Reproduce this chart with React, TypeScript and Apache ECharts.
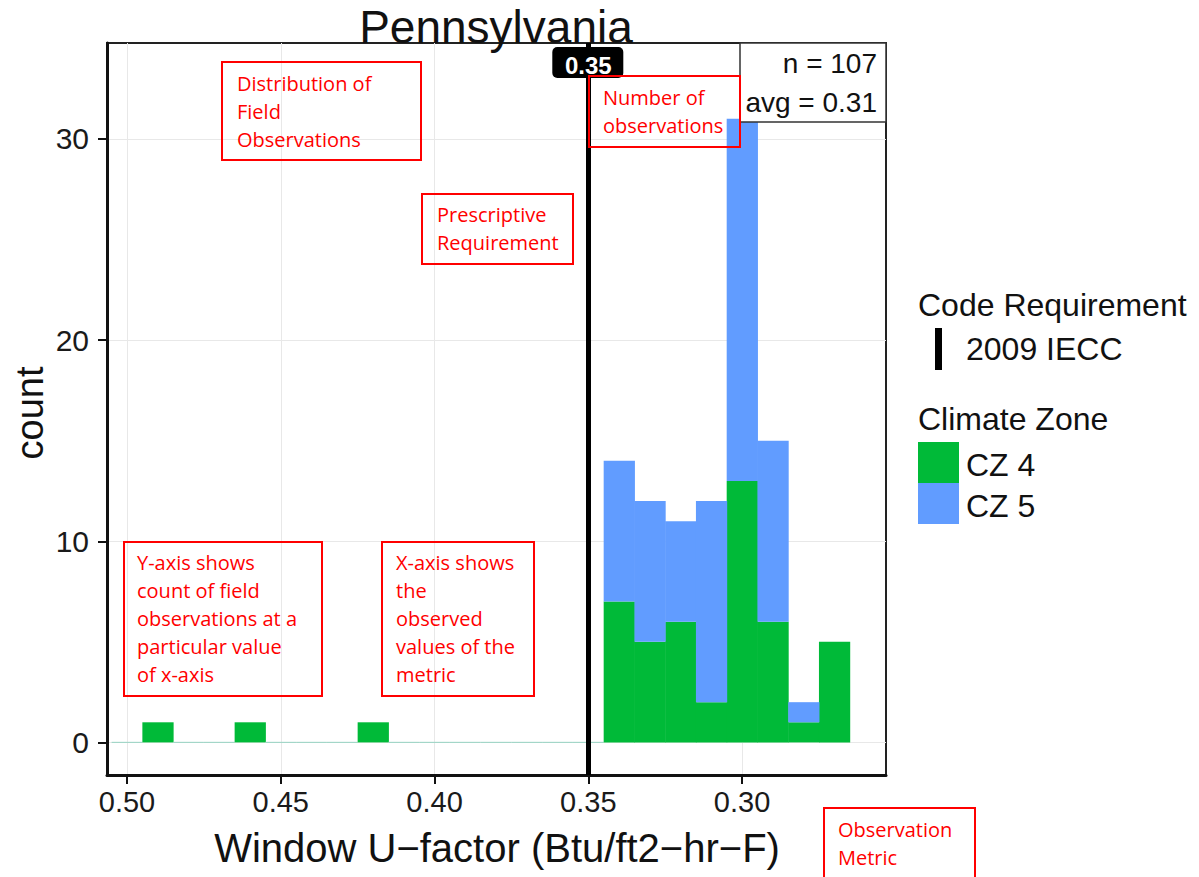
import React, { useEffect, useRef } from "react";
import * as echarts from "echarts";

// Histogram bins (window U-factor), counts per climate zone
const binCenters = [0.5, 0.49, 0.48, 0.47, 0.46, 0.45, 0.44, 0.43, 0.42, 0.41, 0.4, 0.39, 0.38, 0.37, 0.36, 0.35, 0.34, 0.33, 0.32, 0.31, 0.3, 0.29, 0.28, 0.27];
const cz4Counts = [0, 1, 0, 0, 1, 0, 0, 0, 1, 0, 0, 0, 0, 0, 0, 0, 7, 5, 6, 2, 13, 6, 1, 5];
const cz5Counts = [0, 0, 0, 0, 0, 0, 0, 0, 0, 0, 0, 0, 0, 0, 0, 0, 7, 7, 5, 10, 18, 9, 1, 0];
const xTicks = [0.5, 0.45, 0.4, 0.35, 0.3];
const yTicks = [0, 10, 20, 30];
const requirement = 0.35;
const requirementLabel = "0.35";
const nObs = 107;
const avgValue = "0.31";
const binWidth = 0.01;

const GREEN = "#00BA38";
const BLUE = "#619CFF";
const ZERO = "#a3d6c8";
const RED = "#ff0000";
const FONT = "'Liberation Sans', Arial, sans-serif";
const NOTE_FONT = "'Open Sans', 'Noto Sans', sans-serif";

export default function App() {
  const ref = useRef<HTMLDivElement>(null);
  useEffect(() => {
    const chart = echarts.init(ref.current!, null, { renderer: "svg" });
    const totals = binCenters.map((_, i) => cz4Counts[i] + cz5Counts[i]);
    const cz4Data = binCenters.map((c, i) => [c, 0, cz4Counts[i], totals[i]]);
    const cz5Data = binCenters.map((c, i) => [c, cz4Counts[i], totals[i], totals[i]]);

    const makeRender = (color: string, drawZero: boolean) => (params: any, api: any) => {
      const c = api.value(0);
      const lo = api.value(1);
      const hi = api.value(2);
      const total = api.value(3);
      const a = api.coord([c + binWidth / 2, lo]);
      const b = api.coord([c - binWidth / 2, hi]);
      const x = Math.min(a[0], b[0]);
      const w = Math.abs(b[0] - a[0]);
      if (total === 0) {
        if (!drawZero) return null;
        return {
          type: "line",
          shape: { x1: x, y1: a[1], x2: x + w, y2: a[1] },
          style: { stroke: ZERO, lineWidth: 1.2 },
        };
      }
      if (hi - lo <= 0) return null;
      return {
        type: "rect",
        shape: { x, y: Math.min(a[1], b[1]), width: w + 0.5, height: Math.abs(b[1] - a[1]) },
        style: { fill: color },
      };
    };

    chart.setOption({
      animation: false,
      backgroundColor: "#ffffff",
      grid: { left: 107, right: 313, top: 43, bottom: 102, show: true, borderColor: "#222", borderWidth: 2, backgroundColor: "transparent" },
      xAxis: {
        type: "value",
        inverse: true,
        min: 0.2532,
        max: 0.5065,
        axisLine: { show: true, onZero: false, lineStyle: { color: "#111", width: 3 } },
        axisTick: { show: true, customValues: xTicks, length: 9, lineStyle: { color: "#111", width: 2 } },
        axisLabel: {
          customValues: xTicks,
          formatter: (v: number) => v.toFixed(2),
          fontFamily: FONT,
          fontSize: 29,
          color: "#1a1a1a",
          margin: 12,
        },
        splitLine: { show: true, lineStyle: { color: "#e8e8e8", width: 1 } },
      },
      yAxis: {
        type: "value",
        min: -1.62,
        max: 34.77,
        axisLine: { show: true, onZero: false, lineStyle: { color: "#111", width: 3 } },
        axisTick: { show: true, customValues: yTicks, length: 9, lineStyle: { color: "#111", width: 2 } },
        axisLabel: {
          customValues: yTicks,
          fontFamily: FONT,
          fontSize: 30,
          color: "#1a1a1a",
          margin: 18,
        },
        splitLine: { show: true, lineStyle: { color: "#e8e8e8", width: 1 } },
      },
      series: [
        {
          type: "custom",
          name: "CZ 4",
          data: cz4Data,
          renderItem: makeRender(GREEN, true),
          encode: { x: 0, y: [1, 2] },
          clip: true,
          markLine: {
            silent: true,
            symbol: ["none", "none"],
            label: { show: false },
            lineStyle: { color: "#000", width: 5, type: "solid" },
            data: [{ xAxis: requirement }],
          },
        },
        {
          type: "custom",
          name: "CZ 5",
          data: cz5Data,
          renderItem: makeRender(BLUE, false),
          encode: { x: 0, y: [1, 2] },
          clip: true,
        },
      ],
    });

    const reqPx = chart.convertToPixel({ gridIndex: 0 }, [requirement, 0]) as number[];
    const rx = reqPx[0];

    const note = (x: number, y: number, w: number, h: number, tx: number, ty: number, text: string) => [
      { type: "rect", z: 100, shape: { x, y, width: w, height: h }, style: { fill: "none", stroke: RED, lineWidth: 2 } },
      {
        type: "text",
        z: 101,
        x: tx,
        y: ty,
        style: { text, fill: RED, font: `20px ${NOTE_FONT}`, lineHeight: 28, verticalAlign: "top", align: "left" },
      },
    ];

    chart.setOption({
      graphic: [
        // title
        { type: "text", z: 100, x: 496, y: 50, style: { text: "Pennsylvania", fill: "#111", font: `46px ${FONT}`, align: "center", verticalAlign: "bottom" } },
        // axis titles
        { type: "text", z: 100, x: 497, y: 848, style: { text: "Window U\u2212factor (Btu/ft2\u2212hr\u2212F)", fill: "#111", font: `40px ${FONT}`, align: "center", verticalAlign: "middle" } },
        { type: "text", z: 100, x: 30, y: 413, rotation: Math.PI / 2, style: { text: "count", fill: "#111", font: `38px ${FONT}`, align: "center", verticalAlign: "middle" } },
        // requirement label
        { type: "rect", z: 100, shape: { x: rx - 36, y: 47, width: 71, height: 31, r: 5 }, style: { fill: "#000" } },
        { type: "text", z: 101, x: rx, y: 65, style: { text: requirementLabel, fill: "#fff", font: `bold 24px ${FONT}`, align: "center", verticalAlign: "middle" } },
        // n / avg box
        { type: "rect", z: 100, shape: { x: 740, y: 43, width: 146, height: 79 }, style: { fill: "#fff", stroke: "#333", lineWidth: 1.5 } },
        { type: "text", z: 101, x: 877, y: 63, style: { text: `n = ${nObs}`, fill: "#111", font: `28px ${FONT}`, align: "right", verticalAlign: "middle" } },
        { type: "text", z: 101, x: 877, y: 102, style: { text: `avg = ${avgValue}`, fill: "#111", font: `28px ${FONT}`, align: "right", verticalAlign: "middle" } },
        // legend
        { type: "text", z: 100, x: 918, y: 305, style: { text: "Code Requirement", fill: "#111", font: `32px ${FONT}`, align: "left", verticalAlign: "middle" } },
        { type: "rect", z: 100, shape: { x: 935, y: 328, width: 7, height: 42 }, style: { fill: "#000" } },
        { type: "text", z: 100, x: 966, y: 349, style: { text: "2009 IECC", fill: "#111", font: `32px ${FONT}`, align: "left", verticalAlign: "middle" } },
        { type: "text", z: 100, x: 918, y: 419, style: { text: "Climate Zone", fill: "#111", font: `32px ${FONT}`, align: "left", verticalAlign: "middle" } },
        { type: "rect", z: 100, shape: { x: 918, y: 442, width: 41, height: 41 }, style: { fill: GREEN } },
        { type: "rect", z: 100, shape: { x: 918, y: 483, width: 41, height: 41 }, style: { fill: BLUE } },
        { type: "text", z: 100, x: 966, y: 465, style: { text: "CZ 4", fill: "#111", font: `32px ${FONT}`, align: "left", verticalAlign: "middle" } },
        { type: "text", z: 100, x: 966, y: 506, style: { text: "CZ 5", fill: "#111", font: `32px ${FONT}`, align: "left", verticalAlign: "middle" } },
        // red annotation boxes
        ...note(222, 62, 199, 98, 237, 69, "Distribution of\nField\nObservations"),
        ...note(589, 76, 151, 71, 603, 83, "Number of\nobservations"),
        ...note(422, 194, 151, 70, 437, 200, "Prescriptive\nRequirement"),
        ...note(124, 542, 198, 154, 137, 548, "Y-axis shows\ncount of field\nobservations at a\nparticular value\nof x-axis"),
        ...note(382, 542, 152, 154, 396, 548, "X-axis shows\nthe\nobserved\nvalues of the\nmetric"),
        ...note(824, 808, 151, 80, 838, 815, "Observation\nMetric"),
      ],
    });

    return () => chart.dispose();
  }, []);

  return <div ref={ref} style={{ position: "fixed", left: 0, top: 0, width: 1199, height: 877 }} />;
}
